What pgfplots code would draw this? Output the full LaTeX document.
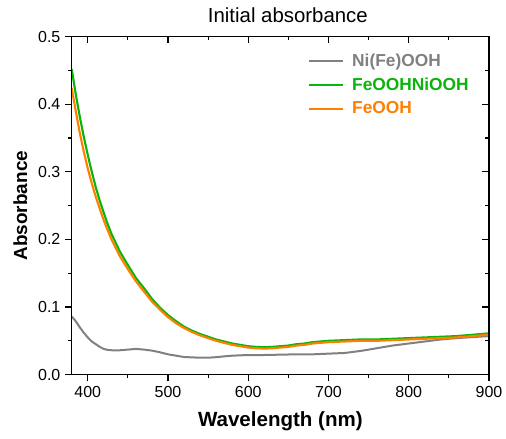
\documentclass[border=0pt]{standalone}
\usepackage{pgfplots}
\pgfplotsset{compat=1.18}
\usepackage{fontspec}
\setmainfont{Liberation Sans}
\definecolor{cgray}{RGB}{128,128,128}
\definecolor{cgreen}{RGB}{10,180,10}
\definecolor{corange}{RGB}{255,128,0}
\begin{document}
\begin{tikzpicture}
\pgfplotsset{
  common/.style={
    scale only axis, width=313pt, height=253.5pt,
    xmin=380, xmax=900, ymin=0, ymax=0.5,
    xtick={400,500,...,900}, ytick={0,0.1,...,0.5},
    minor x tick num=1, minor y tick num=1,
    major tick length=5pt, minor tick length=2.7pt,
    axis line style={line width=1pt}, every tick/.style={line width=0.9pt, black},
    /pgf/number format/assume math mode=true,
    tick label style={font=\fontsize{12}{14}\selectfont},
  }
}
\begin{axis}[common, name=ax,
  tick align=outside, xtick pos=left, ytick pos=left,
  yticklabel style={/pgf/number format/fixed, /pgf/number format/fixed zerofill, /pgf/number format/precision=1},
  xlabel={Wavelength (nm)}, ylabel={Absorbance},
  xlabel style={font=\bfseries\fontsize{15.4}{18}\selectfont, at={(axis description cs:0.5,-0.1538)}, anchor=base},
  ylabel style={font=\bfseries\fontsize{14.2}{17}\selectfont, at={(axis description cs:-0.1071,0.5)}, anchor=base},
  title={Initial absorbance},
  title style={font=\fontsize{15.3}{18}\selectfont, at={(axis description cs:0.518,1.0178)}, anchor=base},
  legend style={draw=none, fill=none, at={(axis description cs:0.555,0.965)}, anchor=north west,
    font=\bfseries\fontsize{13}{15}\selectfont, row sep=3pt},
  legend cell align=left,
  legend image code/.code={\draw[#1] (0cm,0cm) -- (0.9cm,0cm); \path (1.05cm,0cm);},
]
\addplot[cgray, line width=1.5pt] coordinates {
(380,0.086) (385,0.079) (390,0.070) (395,0.062) (400,0.055) (405,0.049) (410,0.045) (415,0.041)
(420,0.038) (425,0.0365) (430,0.036) (440,0.036) (450,0.037) (460,0.038) (470,0.037) (480,0.0355)
(490,0.033) (500,0.030) (510,0.028) (520,0.026) (530,0.0255) (540,0.025) (550,0.025) (560,0.0258)
(570,0.027) (580,0.028) (600,0.029) (620,0.029) (640,0.0295) (660,0.030) (680,0.030) (700,0.031)
(720,0.032) (740,0.035) (760,0.039) (780,0.043) (800,0.046) (820,0.049) (840,0.052) (860,0.054)
(880,0.0555) (900,0.057)
};
\addlegendentry{\textcolor{cgray}{Ni(Fe)OOH}}
\addplot[cgreen, line width=1.6pt] coordinates {
(380,0.452) (385,0.415) (390,0.382) (395,0.352) (400,0.325) (405,0.300) (410,0.277) (415,0.257)
(420,0.239) (425,0.222) (430,0.207) (440,0.182) (450,0.162) (460,0.143) (470,0.128) (480,0.112)
(490,0.099) (500,0.088) (510,0.079) (520,0.071) (530,0.065) (540,0.060) (550,0.056) (560,0.052)
(570,0.049) (580,0.046) (590,0.044) (600,0.042) (610,0.041) (620,0.0405) (630,0.041) (640,0.042)
(650,0.043) (660,0.045) (670,0.046) (680,0.048) (690,0.049) (700,0.050) (720,0.051) (740,0.052)
(760,0.052) (780,0.053) (800,0.054) (820,0.055) (840,0.056) (860,0.057) (880,0.059) (900,0.061)
};
\addlegendentry{\textcolor{cgreen}{FeOOHNiOOH}}
\addplot[corange, line width=1.6pt] coordinates {
(380,0.424) (385,0.390) (390,0.358) (395,0.330) (400,0.305) (405,0.283) (410,0.263) (415,0.245)
(420,0.228) (425,0.213) (430,0.199) (440,0.175) (450,0.156) (460,0.138) (470,0.123) (480,0.108)
(490,0.096) (500,0.085) (510,0.076) (520,0.069) (530,0.063) (540,0.058) (550,0.054) (560,0.050)
(570,0.047) (580,0.044) (590,0.042) (600,0.040) (610,0.039) (620,0.0385) (630,0.039) (640,0.040)
(650,0.041) (660,0.043) (670,0.044) (680,0.046) (690,0.047) (700,0.048) (720,0.049) (740,0.050)
(760,0.050) (780,0.051) (800,0.052) (820,0.053) (840,0.054) (860,0.055) (880,0.057) (900,0.059)
};
\addlegendentry{\textcolor{corange}{FeOOH}}
\end{axis}
\begin{axis}[common, tick align=inside, xtick pos=right, ytick pos=right,
  xticklabels={{},{},{},{},{},{}}, yticklabels={{},{},{},{},{},{}}]
\end{axis}
\pgfresetboundingbox
\path[use as bounding box] ([xshift=-53.8pt,yshift=-48.2pt]ax.south west) rectangle ([xshift=12.75pt,yshift=27.5pt]ax.north east);
\end{tikzpicture}
\end{document}
